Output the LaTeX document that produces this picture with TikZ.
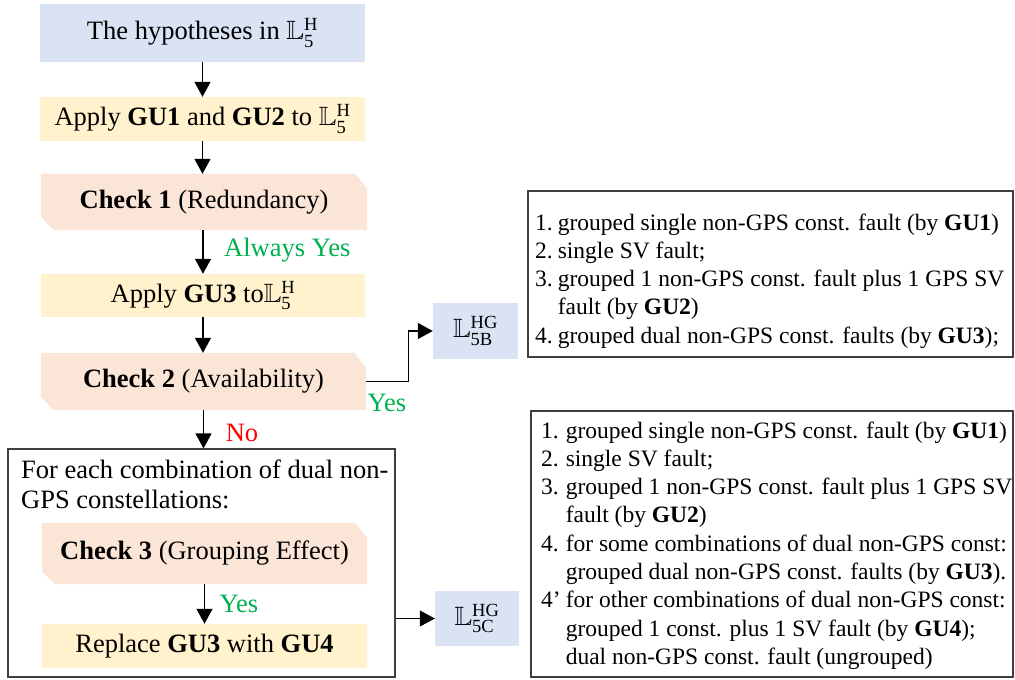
\documentclass[tikz,border=0pt]{standalone}
\usepackage{amssymb}
\usepackage{fontspec}
\setmainfont{Liberation Serif}
\usetikzlibrary{arrows.meta,backgrounds}
\definecolor{bluec}{HTML}{DAE3F3}
\definecolor{yellowc}{HTML}{FFF2CC}
\definecolor{peachc}{HTML}{FBE5D6}
\definecolor{greenc}{HTML}{00B050}
\definecolor{redc}{HTML}{FF0000}
\definecolor{framec}{HTML}{404040}
\newcommand\LLsym[2]{$\mathbb{L}_{\mathrm{#1}}^{\mathrm{#2}}$}
\newcommand\chamfill[1]{\fill[peachc] (#1.north west) -- ([xshift=-12pt]#1.north east) -- ([yshift=-15pt]#1.north east) -- (#1.south east) -- ([xshift=13pt]#1.south west) -- ([yshift=13pt]#1.south west) -- cycle;}
\tikzset{
  bigfont/.style={font=\fontsize{26.5}{30}\selectfont},
  listfont/.style={font=\fontsize{23.5}{28.3}\selectfont},
  boxbase/.style={rectangle, inner sep=0pt, bigfont, align=center},
  bluebox/.style={boxbase, fill=bluec},
  yellowbox/.style={boxbase, fill=yellowc},
  checkbox/.style={boxbase},
  framebox/.style={rectangle, inner sep=0pt, draw=framec, line width=1.2pt},
  arr/.style={-{Triangle[width=16pt,length=15pt]}, line width=1.3pt, black},
  lbl/.style={bigfont, inner sep=0pt},
  plain/.style={bigfont, inner sep=0pt, anchor=base west},
  listtext/.style={listfont, inner sep=0pt, anchor=base west, align=left}
}
\begin{document}
\begin{tikzpicture}[x=1pt,y=-1pt]
\useasboundingbox (0,0) rectangle (1015,680);
% left column
\node[bluebox, minimum width=325pt, minimum height=58pt] (n1) at (202.5,33) {The hypotheses in \LLsym{5}{H}};
\node[yellowbox, minimum width=325pt, minimum height=44pt] (n2) at (202.5,119) {Apply \textbf{GU1} and \textbf{GU2} to \LLsym{5}{H}};
\node[checkbox, minimum width=326pt, minimum height=56pt] (c1) at (204,202) {\textbf{Check 1} (Redundancy)};
\node[yellowbox, minimum width=324pt, minimum height=43pt] (n3) at (203,295.5) {Apply \textbf{GU3} to\LLsym{5}{H}};
\node[checkbox, minimum width=325pt, minimum height=57pt] (c2) at (203.5,381.5) {\textbf{Check 2} (Availability)};
\node[framebox, minimum width=387pt, minimum height=228pt] (big) at (201.5,563) {};
\node[plain] (bt1) at (21,478) {For each combination of dual non-};
\node[plain] (bt2) at (21,508) {GPS constellations:};
\node[checkbox, minimum width=325pt, minimum height=61pt] (c3) at (204.5,553.5) {\textbf{Check 3} (Grouping Effect)};
\node[yellowbox, minimum width=325pt, minimum height=44pt] (n4) at (204.5,646) {Replace \textbf{GU3} with \textbf{GU4}};
% result nodes
\node[bluebox, minimum width=85pt, minimum height=56pt] (l5b) at (475.5,331) {\LLsym{5B}{HG}};
\node[bluebox, minimum width=84pt, minimum height=55pt] (l5c) at (477,618.5) {\LLsym{5C}{HG}};
% list boxes
\node[framebox, minimum width=485pt, minimum height=166pt] (r1) at (770.5,274) {};
\node[framebox, minimum width=482pt, minimum height=266pt] (r2) at (772,544) {};
\node[listtext] (r1t) at (535,230) {\begin{tabular}[t]{@{}l@{\hspace{5pt}}l@{}}
1. & grouped single non-GPS const. fault (by \textbf{GU1})\\
2. & single SV fault;\\
3. & grouped 1 non-GPS const. fault plus 1 GPS SV\\
   & fault (by \textbf{GU2})\\
4. & grouped dual non-GPS const. faults (by \textbf{GU3});
\end{tabular}};
\node[listtext] (r2t) at (541,438) {\begin{tabular}[t]{@{}l@{\hspace{5pt}}l@{}}
1. & grouped single non-GPS const. fault (by \textbf{GU1})\\
2. & single SV fault;\\
3. & grouped 1 non-GPS const. fault plus 1 GPS SV\\
   & fault (by \textbf{GU2})\\
4. & for some combinations of dual non-GPS const:\\
   & grouped dual non-GPS const. faults (by \textbf{GU3}).\\
4’ & for other combinations of dual non-GPS const:\\
   & grouped 1 const. plus 1 SV fault (by \textbf{GU4});\\
   & dual non-GPS const. fault (ungrouped)
\end{tabular}};
% chamfered fills
\begin{scope}[on background layer]
\chamfill{c1}
\chamfill{c2}
\chamfill{c3}
\end{scope}
% arrows
\draw[arr] (n1.south) -- (n2.north);
\draw[arr] (n2.south) -- (n2.south |- c1.north);
\draw[arr] (n3.north |- c1.south) -- (n3.north);
\draw[arr] (n3.south) -- (n3.south |- c2.north);
\draw[arr] (c2.south) -- (c2.south |- big.north);
\draw[arr] (c3.south) -- (c3.south |- n4.north);
\draw[arr] (c2.east) -- ++(42,0) |- (l5b.west);
\draw[arr] (big.east |- l5c.west) -- (l5c.west);
% labels
\node[lbl, text=greenc, anchor=west] (ay) at (224,250) {Always Yes};
\node[lbl, text=greenc] (y2) at (387,403) {Yes};
\node[lbl, text=redc] (no) at (242,433) {No};
\node[lbl, text=greenc] (y3) at (239,604) {Yes};
\end{tikzpicture}
\end{document}
